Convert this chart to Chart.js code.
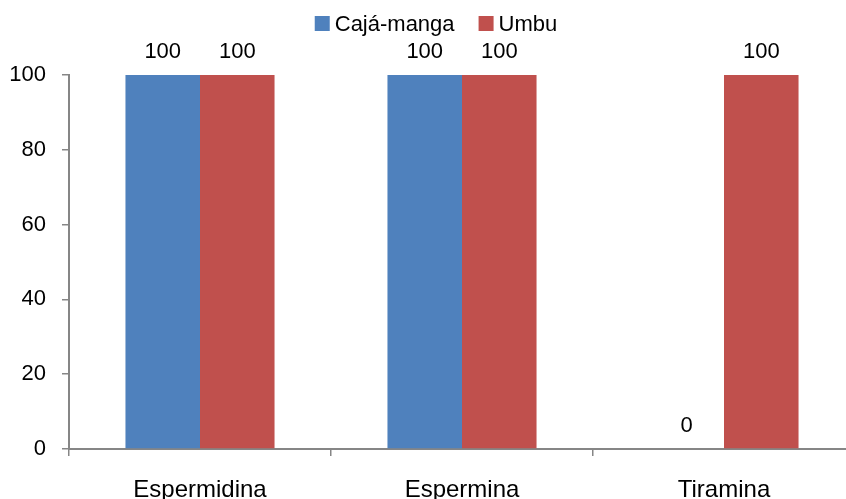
<!DOCTYPE html>
<html>
<head>
<meta charset="utf-8">
<script src="https://cdn.jsdelivr.net/npm/chart.js@4/dist/chart.umd.min.js"></script>
<style>
  html, body { margin: 0; padding: 0; background: #fff; overflow: hidden; }
  #wrap { position: absolute; left: 0; top: 0; }
</style>
</head>
<body>
<div id="wrap"><canvas id="c" width="860" height="520"></canvas></div>
<script>
// Categories and series values
const categories = ['Espermidina', 'Espermina', 'Tiramina'];
const cajaManga = [100, 100, 0];
const umbu = [100, 100, 100];
const yTicks = [0, 20, 40, 60, 80, 100];

const FONT = "'Liberation Sans', Arial, sans-serif";
const AXIS_GREY = '#868686';

// Legend drawn centred above the plot: square swatch followed by the series name
const topLegend = {
  id: 'topLegend',
  afterDraw(chart) {
    const ctx = chart.ctx;
    const box = 15, gap = 5, itemGap = 24, baseline = 31, centre = 436;
    ctx.save();
    ctx.font = '22px ' + FONT;
    const items = chart.data.datasets.map(ds => ({
      label: ds.label, color: ds.backgroundColor, w: ctx.measureText(ds.label).width
    }));
    const total = items.reduce((s, it) => s + box + gap + it.w, 0) + itemGap * (items.length - 1);
    let x = centre - total / 2;
    ctx.textBaseline = 'alphabetic';
    ctx.textAlign = 'left';
    items.forEach(it => {
      ctx.fillStyle = it.color;
      ctx.fillRect(x, baseline - box, box, box);
      x += box + gap;
      ctx.fillStyle = '#000';
      ctx.fillText(it.label, x, baseline);
      x += it.w + itemGap;
    });
    ctx.restore();
  }
};

// Value printed above every bar
const valueLabels = {
  id: 'valueLabels',
  afterDatasetsDraw(chart) {
    const ctx = chart.ctx;
    ctx.save();
    ctx.font = '22px ' + FONT;
    ctx.fillStyle = '#000';
    ctx.textAlign = 'center';
    ctx.textBaseline = 'alphabetic';
    chart.data.datasets.forEach((ds, i) => {
      chart.getDatasetMeta(i).data.forEach((bar, j) => {
        ctx.fillText(String(ds.data[j]), bar.x, bar.y - 17);
      });
    });
    ctx.restore();
  }
};

new Chart(document.getElementById('c'), {
  type: 'bar',
  data: {
    labels: categories,
    datasets: [
      { label: 'Cajá-manga', data: cajaManga, backgroundColor: '#4F81BD' },
      { label: 'Umbu', data: umbu, backgroundColor: '#C0504D' }
    ]
  },
  options: {
    responsive: false,
    animation: false,
    devicePixelRatio: 1,
    layout: { padding: { top: 75, right: 5, left: 0, bottom: 0 } },
    datasets: { bar: { categoryPercentage: 0.569, barPercentage: 1.0, borderWidth: 0 } },
    plugins: { legend: { display: false }, tooltip: { enabled: false } },
    scales: {
      x: {
        offset: true,
        grid: { offset: true, drawOnChartArea: false, drawTicks: true, tickLength: 7, color: AXIS_GREY, lineWidth: 1.5 },
        border: { color: AXIS_GREY, width: 2 },
        ticks: { color: '#000', font: { family: FONT, size: 24 }, padding: 20, maxRotation: 0 },
        afterFit(scale) { scale.height = 520 - 449; }
      },
      y: {
        min: 0, max: 100,
        afterBuildTicks(scale) { scale.ticks = yTicks.map(v => ({ value: v })); },
        grid: { drawOnChartArea: false, drawTicks: true, tickLength: 7, color: AXIS_GREY, lineWidth: 1.5 },
        border: { color: AXIS_GREY, width: 2 },
        ticks: { color: '#000', font: { family: FONT, size: 22 }, padding: 16 },
        afterFit(scale) { scale.width = 69; }
      }
    }
  },
  plugins: [topLegend, valueLabels]
});
</script>
</body>
</html>
